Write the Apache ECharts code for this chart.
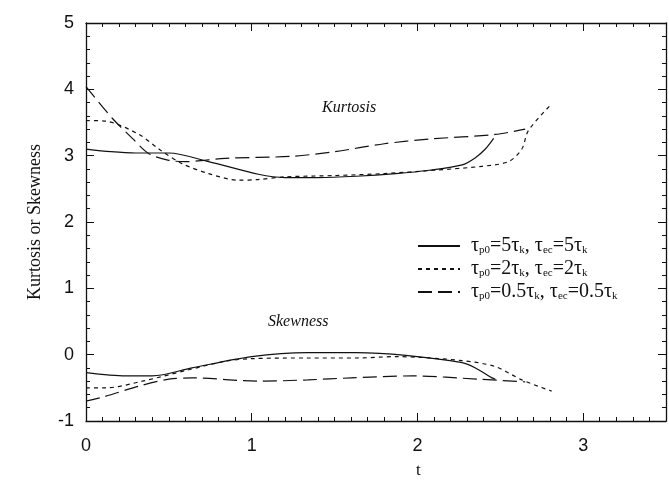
<!DOCTYPE html>
<html><head><meta charset="utf-8">
<script src="https://cdn.jsdelivr.net/npm/echarts@6/dist/echarts.min.js"></script>
<style>html,body{margin:0;padding:0;background:#fff}#c{width:669px;height:483px}</style>
</head><body><div id="c"></div>
<script>
// Series names (legend)
const names = ['tau5', 'tau2', 'tau05'];
const legendLabels = {
  tau5: '{t|τ}{s|p0}{t|=5τ}{s|k}{t|, τ}{s|ec}{t|=5τ}{s|k}',
  tau2: '{t|τ}{s|p0}{t|=2τ}{s|k}{t|, τ}{s|ec}{t|=2τ}{s|k}',
  tau05: '{t|τ}{s|p0}{t|=0.5τ}{s|k}{t|, τ}{s|ec}{t|=0.5τ}{s|k}'
};
// Kurtosis curves
const kurtSolidX = [0, 0.15, 0.3, 0.5, 0.74, 1.04, 1.2, 1.4, 1.63, 1.87, 2.07, 2.27, 2.35, 2.41, 2.46];
const kurtSolidY = [3.1, 3.06, 3.04, 3.04, 2.91, 2.72, 2.67, 2.67, 2.69, 2.73, 2.78, 2.86, 2.97, 3.1, 3.26];
const kurtShortX = [0, 0.12, 0.32, 0.44, 0.58, 0.74, 0.92, 1.04, 1.2, 1.5, 1.8, 2.1, 2.39, 2.55, 2.63, 2.67, 2.81];
const kurtShortY = [3.53, 3.52, 3.32, 3.1, 2.88, 2.73, 2.63, 2.64, 2.68, 2.7, 2.73, 2.78, 2.84, 2.91, 3.1, 3.38, 3.78];
const kurtLongX = [0, 0.16, 0.28, 0.38, 0.5, 0.6, 0.84, 1.24, 1.5, 1.8, 2.07, 2.47, 2.65];
const kurtLongY = [4.04, 3.56, 3.26, 3.03, 2.93, 2.91, 2.96, 2.99, 3.06, 3.18, 3.25, 3.32, 3.4];
// Skewness curves
const skewSolidX = [0, 0.24, 0.4, 0.64, 1.0, 1.34, 1.63, 1.93, 2.27, 2.35, 2.45, 2.47];
const skewSolidY = [-0.27, -0.32, -0.32, -0.2, -0.03, 0.03, 0.03, -0.01, -0.12, -0.2, -0.35, -0.37];
const skewShortX = [0, 0.12, 0.34, 0.6, 0.84, 1.0, 1.34, 1.63, 1.87, 2.27, 2.47, 2.63, 2.81];
const skewShortY = [-0.5, -0.5, -0.4, -0.24, -0.1, -0.06, -0.05, -0.05, -0.03, -0.09, -0.18, -0.38, -0.55];
const skewLongX = [0, 0.1, 0.34, 0.5, 0.64, 1.04, 1.34, 1.6, 1.97, 2.37, 2.65];
const skewLongY = [-0.7, -0.64, -0.46, -0.37, -0.35, -0.4, -0.38, -0.35, -0.32, -0.37, -0.41];

const zip = (xs, ys) => xs.map((x, i) => [x, ys[i]]);
const styles = {
  tau5: { type: 'solid' },
  tau2: { type: [4, 4] },
  tau05: { type: [14, 6] }
};
function mk(name, xs, ys) {
  return {
    type: 'line', name: name, data: zip(xs, ys), smooth: 0.3, symbol: 'none',
    lineStyle: Object.assign({ color: '#111', width: 1.2 }, styles[name]),
    itemStyle: { color: '#111' }
  };
}
const chart = echarts.init(document.getElementById('c'), null, { renderer: 'canvas' });
const serif = '"Liberation Serif", "Times New Roman", serif';
const sans = '"Liberation Sans", Arial, sans-serif';
const axLine = { show: true, onZero: false, lineStyle: { color: '#111', width: 1.3 } };
const axTick = { show: true, inside: true, length: 8, lineStyle: { color: '#111' } };
function minor(n) { return { show: true, splitNumber: n, length: 4, lineStyle: { color: '#111' } }; }
chart.setOption({
  animation: false,
  backgroundColor: '#fff',
  grid: { left: 86, right: -4, top: 23, bottom: 62 },
  legend: {
    orient: 'vertical', left: 412, top: 231, itemWidth: 42, itemHeight: 14, itemGap: 3,
    data: names,
    itemStyle: { opacity: 0 },
    formatter: n => legendLabels[n],
    textStyle: {
      padding: [0, 0, 0, 6],
      rich: {
        t: { fontFamily: serif, fontSize: 20, color: '#111', lineHeight: 20 },
        s: { fontFamily: serif, fontSize: 11, color: '#111', padding: [9, 0, 0, 0], lineHeight: 20 }
      }
    }
  },
  xAxis: [
    {
      type: 'value', min: 0, max: 3.5, interval: 1,
      axisLine: axLine, axisTick: axTick, splitLine: { show: false }, minorTick: minor(10),
      axisLabel: { fontFamily: sans, fontSize: 18, color: '#111', margin: 16, formatter: v => (v === 3.5 ? '' : String(v)) }
    },
    {
      type: 'value', min: 0, max: 3.5, interval: 1, position: 'top',
      axisLine: axLine, axisTick: axTick, splitLine: { show: false }, minorTick: minor(10),
      axisLabel: { show: false }
    }
  ],
  yAxis: [
    {
      type: 'value', min: -1, max: 5, interval: 1,
      name: 'Kurtosis or Skewness', nameLocation: 'middle', nameGap: 42,
      nameTextStyle: { fontFamily: serif, fontSize: 18, color: '#111' },
      axisLine: axLine, axisTick: axTick, splitLine: { show: false }, minorTick: minor(5),
      axisLabel: { fontFamily: sans, fontSize: 18, color: '#111', margin: 12 }
    },
    {
      type: 'value', min: -1, max: 5, interval: 1, position: 'right',
      axisLine: axLine, axisTick: axTick, splitLine: { show: false }, minorTick: minor(5),
      axisLabel: { show: false }
    }
  ],
  graphic: [
    { type: 'text', left: 322, top: 100, style: { text: 'Kurtosis', font: 'italic 16px ' + serif, fill: '#111' } },
    { type: 'text', left: 268, top: 314, style: { text: 'Skewness', font: 'italic 16px ' + serif, fill: '#111' } },
    { type: 'text', left: 416, top: 462, style: { text: 't', font: '17px ' + serif, fill: '#111' } }
  ],
  series: [
    mk('tau5', kurtSolidX, kurtSolidY),
    mk('tau2', kurtShortX, kurtShortY),
    mk('tau05', kurtLongX, kurtLongY),
    mk('tau5', skewSolidX, skewSolidY),
    mk('tau2', skewShortX, skewShortY),
    mk('tau05', skewLongX, skewLongY)
  ]
});
</script></body></html>
